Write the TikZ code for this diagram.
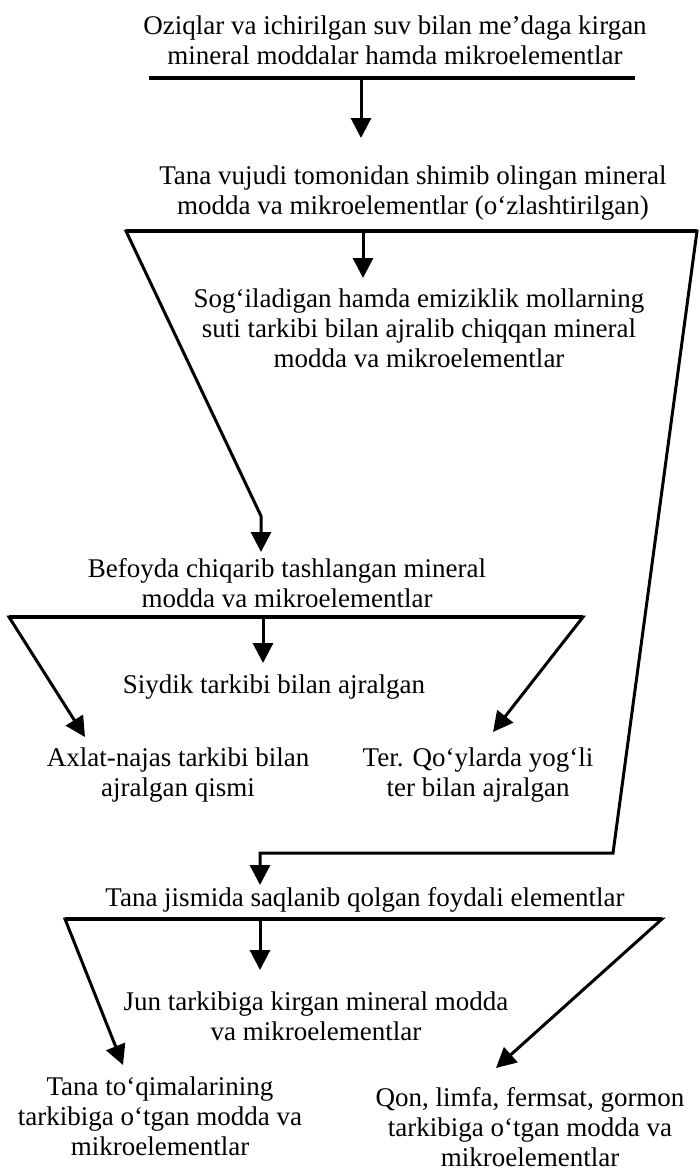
\documentclass[tikz,border=0pt]{standalone}
\usepackage{fontspec}
\setmainfont{Liberation Serif}
\usetikzlibrary{arrows.meta}
\begin{document}
\begin{tikzpicture}[x=1pt,y=-1pt,
  txt/.style={align=center, inner sep=0pt, font=\fontsize{27}{30}\selectfont},
  link/.style={line width=3pt, line join=miter, -{Triangle[length=20pt,width=20pt]}},
  bar/.style={line width=4pt}]
\useasboundingbox[fill=white] (0,0) rectangle (700,1170);

% text blocks
\node[txt] (t1) at (395,40) {Oziqlar va ichirilgan suv bilan me’daga kirgan\\mineral moddalar hamda mikroelementlar};
\node[txt] (t2) at (413,193) {Tana vujudi tomonidan shimib olingan mineral\\modda va mikroelementlar (o‘zlashtirilgan)};
\node[txt] (t3) at (419,328) {Sog‘iladigan hamda emiziklik mollarning\\suti tarkibi bilan ajralib chiqqan mineral\\modda va mikroelementlar};
\node[txt] (t4) at (287,583) {Befoyda chiqarib tashlangan mineral\\modda va mikroelementlar};
\node[txt] (t5) at (274,687) {Siydik tarkibi bilan ajralgan};
\node[txt] (t6) at (178,775) {Axlat-najas tarkibi bilan\\ajralgan qismi};
\node[txt] (t7) at (478,775) {Ter. Qo‘ylarda yog‘li\\ter bilan ajralgan};
\node[txt] (t8) at (365,900) {Tana jismida saqlanib qolgan foydali elementlar};
\node[txt] (t9) at (316,1016) {Jun tarkibiga kirgan mineral modda\\va mikroelementlar};
\node[txt] (t10) at (160,1116) {Tana to‘qimalarining\\tarkibiga o‘tgan modda va\\mikroelementlar};
\node[txt] (t11) at (530,1127) {Qon, limfa, fermsat, gormon\\tarkibiga o‘tgan modda va\\mikroelementlar};

% bar under the first block
\coordinate (b1l) at (149,78);
\coordinate (b1r) at (635,78);
\coordinate (b1m) at (361,78);
\coordinate (a1) at (361,138);

% bar under the second block and its branches
\coordinate (b2l) at (126,231);
\coordinate (b2r) at (697,231);
\coordinate (b2m) at (363,231);
\coordinate (a2) at (363,278);
\coordinate (k1) at (261,516);
\coordinate (a3) at (261,552);
\coordinate (k2) at (613,853);
\coordinate (k3) at (260,853);
\coordinate (a4) at (260,885);

% bar under the excretion block
\coordinate (b3l) at (9,617);
\coordinate (b3r) at (583,617);
\coordinate (b3m) at (263,617);
\coordinate (a5) at (263,663);
\coordinate (a6) at (85,737);
\coordinate (a7) at (493,732);

% bar under the retained-elements block
\coordinate (b4l) at (65,919);
\coordinate (b4r) at (662,919);
\coordinate (b4m) at (260,919);
\coordinate (a8) at (260,970);
\coordinate (a9) at (123,1065);
\coordinate (a10) at (496,1068);

% connectors
\draw[link] (b1m) -- (a1);

\draw[link] (b2m) -- (a2);
\draw[link] (b2m) -- (b2l) -- (k1) -- (a3);
\draw[link] (b2m) -- (b2r) -- (k2) -- (k3) -- (a4);

\draw[link] (b3m) -- (a5);
\draw[link] (b3m) -- (b3l) -- (a6);
\draw[link] (b3m) -- (b3r) -- (a7);

\draw[link] (b4m) -- (a8);
\draw[link] (b4m) -- (b4l) -- (a9);
\draw[link] (b4m) -- (b4r) -- (a10);

% heavier horizontal bars
\draw[bar] (b1l) -- (b1r);
\draw[bar] (b2l) -- (b2r);
\draw[bar] (b3l) -- (b3r);
\draw[bar] (b4l) -- (b4r);
\end{tikzpicture}
\end{document}
